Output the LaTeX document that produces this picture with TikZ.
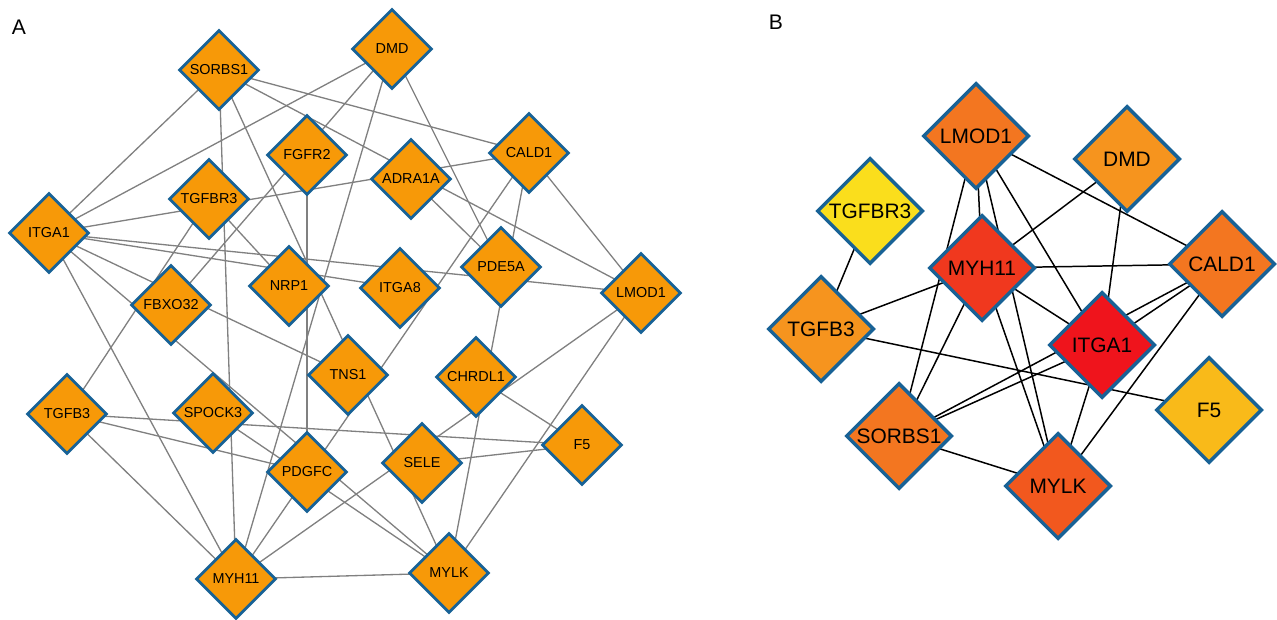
\documentclass[tikz,border=0pt]{standalone}
\usepackage{fontspec}
\setmainfont{Liberation Sans}
\usepackage{xcolor}
\usetikzlibrary{shapes.geometric}
\pgfdeclarelayer{background}
\pgfsetlayers{background,main}

\definecolor{aorange}{RGB}{247,153,8}
\definecolor{nodeblue}{RGB}{24,98,150}
\definecolor{edgegray}{RGB}{128,128,128}
\definecolor{hubred}{RGB}{239,20,28}
\definecolor{hubscarlet}{RGB}{240,56,30}
\definecolor{hubvermilion}{RGB}{242,88,30}
\definecolor{hubdark}{RGB}{243,118,32}
\definecolor{hubmid}{RGB}{246,148,30}
\definecolor{hubgold}{RGB}{249,186,25}
\definecolor{hubyellow}{RGB}{250,222,28}

\tikzset{
	gene/.style={diamond, aspect=1, inner sep=0pt, draw=nodeblue, line width=1.6pt, fill=aorange,
		minimum width=1.6cm, minimum height=1.6cm, font=\fontsize{8.2}{9}\selectfont},
	hub/.style={gene, line width=2pt, minimum width=2.12cm, minimum height=2.12cm,
		font=\fontsize{11.9}{13}\selectfont},
	link/.style={edgegray, line width=0.75pt},
	hublink/.style={black, line width=0.85pt},
	panel/.style={font=\fontsize{12}{14}\selectfont}
}

\begin{document}
\begin{tikzpicture}[x=0.02cm, y=-0.02cm]
	\useasboundingbox (0,0) rectangle (1277,619);
	\node[panel] (labA) at (19,27) {A};
	\node[panel] (labB) at (776,22) {B};
	% network A
	\node[gene] (aSORBS1) at (219,70) {SORBS1};
	\node[gene] (aDMD) at (392,49) {DMD};
	\node[gene] (aFGFR2) at (307,155) {FGFR2};
	\node[gene] (aCALD1) at (529,153) {CALD1};
	\node[gene] (aADRA1A) at (411,179) {ADRA1A};
	\node[gene] (aTGFBR3) at (209,199) {TGFBR3};
	\node[gene] (aITGA1) at (49,233) {ITGA1};
	\node[gene] (aNRP1) at (289,286) {NRP1};
	\node[gene] (aITGA8) at (400,288) {ITGA8};
	\node[gene] (aPDE5A) at (501,267) {PDE5A};
	\node[gene] (aLMOD1) at (641,293) {LMOD1};
	\node[gene] (aFBXO32) at (171,305) {FBXO32};
	\node[gene] (aTNS1) at (348,375) {TNS1};
	\node[gene] (aCHRDL1) at (476,377) {CHRDL1};
	\node[gene] (aTGFB3) at (67,414) {TGFB3};
	\node[gene] (aSPOCK3) at (213,413) {SPOCK3};
	\node[gene] (aF5) at (582,445) {F5};
	\node[gene] (aPDGFC) at (307,472) {PDGFC};
	\node[gene] (aSELE) at (422,463) {SELE};
	\node[gene] (aMYH11) at (236,579) {MYH11};
	\node[gene] (aMYLK) at (449,573) {MYLK};
	% network B
	\node[hub, fill=hubdark] (bLMOD1) at (976,136) {LMOD1};
	\node[hub, fill=hubmid] (bDMD) at (1127,159) {DMD};
	\node[hub, fill=hubyellow] (bTGFBR3) at (870,211) {TGFBR3};
	\node[hub, fill=hubscarlet] (bMYH11) at (982,268) {MYH11};
	\node[hub, fill=hubdark] (bCALD1) at (1222,264) {CALD1};
	\node[hub, fill=hubmid] (bTGFB3) at (821,329) {TGFB3};
	\node[hub, fill=hubred] (bITGA1) at (1102,345) {ITGA1};
	\node[hub, fill=hubgold] (bF5) at (1209,410) {F5};
	\node[hub, fill=hubdark] (bSORBS1) at (899,436) {SORBS1};
	\node[hub, fill=hubvermilion] (bMYLK) at (1058,486) {MYLK};
	\begin{pgfonlayer}{background}
	\draw[link] (aITGA1.center) -- (aSORBS1.center);
	\draw[link] (aITGA1.center) -- (aDMD.center);
	\draw[link] (aITGA1.center) -- (aCALD1.center);
	\draw[link] (aITGA1.center) -- (aLMOD1.center);
	\draw[link] (aITGA1.center) -- (aITGA8.center);
	\draw[link] (aITGA1.center) -- (aTNS1.center);
	\draw[link] (aITGA1.center) -- (aMYLK.center);
	\draw[link] (aITGA1.center) -- (aMYH11.center);
	\draw[link] (aSORBS1.center) -- (aCALD1.center);
	\draw[link] (aSORBS1.center) -- (aLMOD1.center);
	\draw[link] (aSORBS1.center) -- (aMYLK.center);
	\draw[link] (aSORBS1.center) -- (aMYH11.center);
	\draw[link] (aDMD.center) -- (aFBXO32.center);
	\draw[link] (aDMD.center) -- (aMYH11.center);
	\draw[link] (aDMD.center) -- (aPDE5A.center);
	\draw[link] (aFGFR2.center) -- (aPDGFC.center);
	\draw[link] (aADRA1A.center) -- (aPDE5A.center);
	\draw[link] (aCALD1.center) -- (aMYH11.center);
	\draw[link] (aCALD1.center) -- (aMYLK.center);
	\draw[link] (aCALD1.center) -- (aLMOD1.center);
	\draw[link] (aTGFBR3.center) -- (aTGFB3.center);
	\draw[link] (aTGFBR3.center) -- (aNRP1.center);
	\draw[link] (aTGFB3.center) -- (aMYH11.center);
	\draw[link] (aTGFB3.center) -- (aF5.center);
	\draw[link] (aTGFB3.center) -- (aPDGFC.center);
	\draw[link] (aSPOCK3.center) -- (aMYLK.center);
	\draw[link] (aMYH11.center) -- (aLMOD1.center);
	\draw[link] (aMYH11.center) -- (aMYLK.center);
	\draw[link] (aLMOD1.center) -- (aMYLK.center);
	\draw[link] (aCHRDL1.center) -- (aF5.center);
	\draw[link] (aSELE.center) -- (aF5.center);
	\draw[hublink] (bTGFBR3.center) -- (bTGFB3.center);
	\draw[hublink] (bTGFB3.center) -- (bMYH11.center);
	\draw[hublink] (bTGFB3.center) -- (bF5.center);
	\draw[hublink] (bLMOD1.center) -- (bMYH11.center);
	\draw[hublink] (bLMOD1.center) -- (bITGA1.center);
	\draw[hublink] (bLMOD1.center) -- (bCALD1.center);
	\draw[hublink] (bLMOD1.center) -- (bSORBS1.center);
	\draw[hublink] (bLMOD1.center) -- (bMYLK.center);
	\draw[hublink] (bDMD.center) -- (bMYH11.center);
	\draw[hublink] (bDMD.center) -- (bITGA1.center);
	\draw[hublink] (bMYH11.center) -- (bCALD1.center);
	\draw[hublink] (bMYH11.center) -- (bITGA1.center);
	\draw[hublink] (bMYH11.center) -- (bSORBS1.center);
	\draw[hublink] (bMYH11.center) -- (bMYLK.center);
	\draw[hublink] (bCALD1.center) -- (bITGA1.center);
	\draw[hublink] (bCALD1.center) -- (bSORBS1.center);
	\draw[hublink] (bCALD1.center) -- (bMYLK.center);
	\draw[hublink] (bITGA1.center) -- (bSORBS1.center);
	\draw[hublink] (bITGA1.center) -- (bMYLK.center);
	\draw[hublink] (bSORBS1.center) -- (bMYLK.center);
	\end{pgfonlayer}
\end{tikzpicture}
\end{document}
